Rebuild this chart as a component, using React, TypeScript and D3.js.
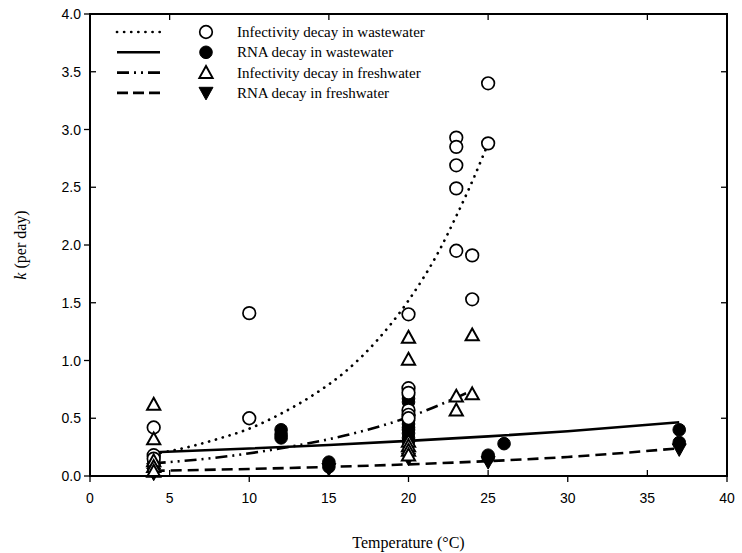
import React from "react";
import * as d3 from "d3";

const W = 742, H = 553;
const M = { left: 90, right: 727, top: 14, bottom: 476 };

// Observed points
const infWasteX = [4, 4, 4, 10, 10, 20, 20, 20, 20, 20, 20, 23, 23, 23, 23, 23, 24, 24, 25, 25];
const infWasteY = [0.42, 0.18, 0.15, 0.50, 1.41, 1.40, 0.76, 0.72, 0.57, 0.53, 0.50, 2.93, 2.85, 2.69, 2.49, 1.95, 1.91, 1.53, 3.40, 2.88];

const rnaWasteX = [4, 4, 4, 12, 12, 12, 15, 15, 20, 20, 20, 20, 20, 20, 20, 20, 20, 20, 25, 25, 26, 37, 37];
const rnaWasteY = [0.17, 0.13, 0.09, 0.40, 0.36, 0.33, 0.12, 0.08, 0.70, 0.67, 0.64, 0.48, 0.45, 0.42, 0.40, 0.37, 0.33, 0.30, 0.18, 0.16, 0.28, 0.40, 0.29];

const infFreshX = [4, 4, 4, 4, 4, 20, 20, 20, 20, 20, 20, 23, 23, 24, 24];
const infFreshY = [0.62, 0.32, 0.13, 0.08, 0.04, 1.20, 1.01, 0.30, 0.26, 0.22, 0.18, 0.69, 0.57, 1.22, 0.71];

const rnaFreshX = [4, 4, 15, 20, 25, 37];
const rnaFreshY = [0.06, 0.02, 0.06, 0.15, 0.12, 0.23];

// Fitted curves
const fitInfWasteX = [4, 6, 8, 10, 12, 14, 16, 18, 20, 22, 23, 24, 25];
const fitInfWasteY = [0.19, 0.245, 0.32, 0.41, 0.54, 0.70, 0.90, 1.17, 1.52, 1.97, 2.25, 2.55, 2.88];
const fitRnaWasteX = [4, 10, 15, 20, 25, 30, 37];
const fitRnaWasteY = [0.205, 0.238, 0.269, 0.304, 0.343, 0.388, 0.465];
const fitInfFreshX = [4, 8, 12, 16, 20, 24];
const fitInfFreshY = [0.11, 0.16, 0.24, 0.35, 0.51, 0.74];
const fitRnaFreshX = [4, 10, 15, 20, 25, 30, 37];
const fitRnaFreshY = [0.045, 0.061, 0.079, 0.101, 0.129, 0.165, 0.24];

const xTicks = [0, 5, 10, 15, 20, 25, 30, 35, 40];
const yTicks = [0, 0.5, 1, 1.5, 2, 2.5, 3, 3.5, 4];
const legendLabels = [
  "Infectivity decay in wastewater",
  "RNA decay in wastewater",
  "Infectivity decay in freshwater",
  "RNA decay in freshwater",
];

const x = d3.scaleLinear().domain([0, 40]).range([M.left, M.right]);
const y = d3.scaleLinear().domain([0, 4]).range([M.bottom, M.top]);

const line = d3
  .line<[number, number]>()
  .x((d) => x(d[0]))
  .y((d) => y(d[1]))
  .curve(d3.curveMonotoneX);

const zip = (a: number[], b: number[]) => a.map((v, i) => [v, b[i]] as [number, number]);

const styles = [
  { dash: "0.1 7", cap: "round", width: 2.7 },
  { dash: "none", cap: "butt", width: 2.6 },
  { dash: "12 5 2 5 2 5", cap: "butt", width: 2.6 },
  { dash: "11 6", cap: "butt", width: 2.6 },
];

const R = 6.3;
function Marker({ kind, cx, cy }: { kind: number; cx: number; cy: number }) {
  if (kind === 0)
    return <circle cx={cx} cy={cy} r={R} fill="#fff" stroke="#000" strokeWidth={1.7} />;
  if (kind === 1) return <circle cx={cx} cy={cy} r={R} fill="#000" stroke="#000" strokeWidth={1} />;
  if (kind === 2) {
    const s = 6.6;
    const p = `M${cx},${cy - s} L${cx + s},${cy + s * 0.8} L${cx - s},${cy + s * 0.8} Z`;
    return <path d={p} fill="#fff" stroke="#000" strokeWidth={2} strokeLinejoin="miter" />;
  }
  const s = 7;
  const p = `M${cx - s},${cy - s * 0.8} L${cx + s},${cy - s * 0.8} L${cx},${cy + s} Z`;
  return <path d={p} fill="#000" stroke="#000" strokeWidth={1} />;
}

export default function App() {
  const fits = [
    zip(fitInfWasteX, fitInfWasteY),
    zip(fitRnaWasteX, fitRnaWasteY),
    zip(fitInfFreshX, fitInfFreshY),
    zip(fitRnaFreshX, fitRnaFreshY),
  ];
  const pts: { kind: number; d: [number, number][] }[] = [
    { kind: 1, d: zip(rnaWasteX, rnaWasteY) },
    { kind: 3, d: zip(rnaFreshX, rnaFreshY) },
    { kind: 0, d: zip(infWasteX, infWasteY) },
    { kind: 2, d: zip(infFreshX, infFreshY) },
  ];
  const tickFont = "'Liberation Sans', Arial, sans-serif";
  const serif = "'Liberation Serif', 'Times New Roman', serif";
  return (
    <div style={{ position: "absolute", left: 0, top: 0 }}>
      <svg width={W} height={H} style={{ display: "block", background: "#fff" }}>
        {fits.map((f, i) => (
          <path
            key={i}
            d={line(f) || ""}
            fill="none"
            stroke="#000"
            strokeWidth={styles[i].width}
            strokeDasharray={styles[i].dash}
            strokeLinecap={styles[i].cap as any}
          />
        ))}
        {pts.map((g) =>
          g.d.map((p, j) => <Marker key={g.kind + "-" + j} kind={g.kind} cx={x(p[0])} cy={y(p[1])} />)
        )}
        <rect
          x={M.left}
          y={M.top}
          width={M.right - M.left}
          height={M.bottom - M.top}
          fill="none"
          stroke="#000"
          strokeWidth={2}
        />
        {xTicks.map((t) => {
          const major = t % 10 === 0;
          const xx = x(t);
          return (
            <g key={"x" + t}>
              <line x1={xx} x2={xx} y1={M.bottom} y2={major ? M.bottom + 6 : M.bottom - 6} stroke="#000" strokeWidth={1.3} />
              {!major && <line x1={xx} x2={xx} y1={M.top} y2={M.top + 6} stroke="#000" strokeWidth={1.3} />}
              <text x={xx} y={M.bottom + 27} textAnchor="middle" fontFamily={tickFont} fontSize={14} fill="#000">
                {t}
              </text>
            </g>
          );
        })}
        {yTicks.map((t) => {
          const major = Math.abs(t % 1) < 1e-9;
          const yy = y(t);
          return (
            <g key={"y" + t}>
              <line x1={M.left} x2={major ? M.left - 6 : M.left + 6} y1={yy} y2={yy} stroke="#000" strokeWidth={1.3} />
              {!major && <line x1={M.right} x2={M.right - 6} y1={yy} y2={yy} stroke="#000" strokeWidth={1.3} />}
              <text x={M.left - 9} y={yy + 5} textAnchor="end" fontFamily={tickFont} fontSize={14} fill="#000">
                {t.toFixed(1)}
              </text>
            </g>
          );
        })}
        <text x={(M.left + M.right) / 2} y={548} textAnchor="middle" fontFamily={serif} fontSize={16} fill="#000">
          Temperature (°C)
        </text>
        <text
          transform={`translate(26,${(M.top + M.bottom) / 2}) rotate(-90)`}
          textAnchor="middle"
          fontFamily={serif}
          fontSize={16}
          fill="#000"
        >
          <tspan fontStyle="italic">k</tspan> (per day)
        </text>
        {legendLabels.map((lab, i) => {
          const ly = 32 + i * 20.3;
          return (
            <g key={lab}>
              <line
                x1={117}
                x2={160}
                y1={ly}
                y2={ly}
                stroke="#000"
                strokeWidth={styles[i].width}
                strokeDasharray={i === 0 ? "0.1 7" : i === 2 ? "12 5 2 5 2 5" : i === 3 ? "11 5" : "none"}
                strokeLinecap={styles[i].cap as any}
              />
              <Marker kind={i} cx={206} cy={ly} />
              <text x={237} y={ly + 5} fontFamily={serif} fontSize={15} fill="#000">
                {lab}
              </text>
            </g>
          );
        })}
      </svg>
    </div>
  );
}
